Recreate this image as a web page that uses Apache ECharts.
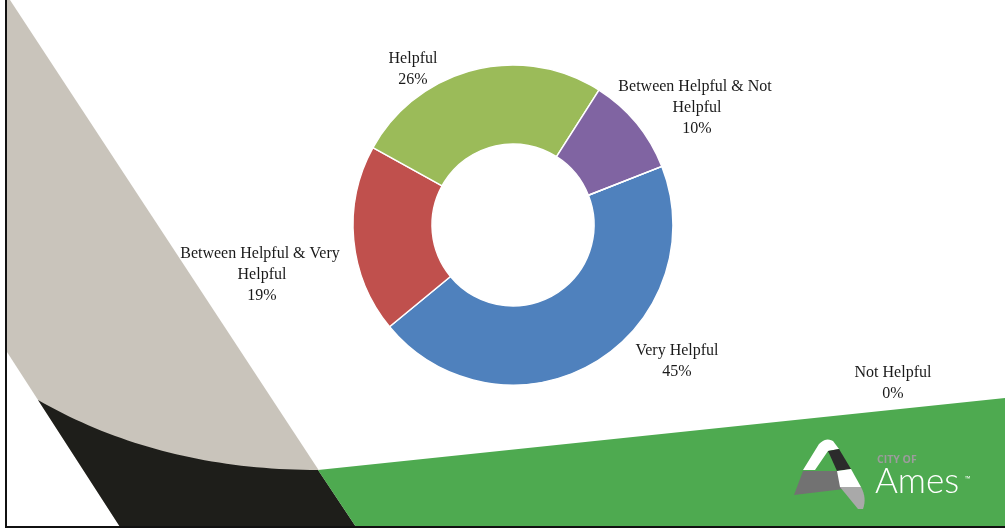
<!DOCTYPE html>
<html>
<head>
<meta charset="utf-8">
<title>Helpfulness rating</title>
<script src="https://cdn.jsdelivr.net/npm/echarts@6/dist/echarts.min.js"></script>
<style>
  html, body { margin: 0; padding: 0; background: #ffffff; }
  #chart { width: 1005px; height: 529px; }
</style>
</head>
<body>
<div id="chart"></div>
<script>
// Survey answers and their shares (percent)
const categories = [
  'Very Helpful',
  'Between Helpful & Very Helpful',
  'Helpful',
  'Between Helpful & Not Helpful',
  'Not Helpful'
];
const shares = [45, 19, 26, 10, 0];
const sliceColors = ['#4F81BD', '#C0504D', '#9BBB59', '#8064A2', '#F79646'];

// Where each data label block is centred on the slide
const labelSpots = [
  [677, 361],
  [262, 275],
  [413, 69],
  [697, 108],
  [893, 383]
];

// Sample a quadratic Bezier into polygon points
function quad(p0, c, p1, steps) {
  const pts = [];
  for (let i = 0; i <= steps; i++) {
    const t = i / steps, u = 1 - t;
    pts.push([u * u * p0[0] + 2 * u * t * c[0] + t * t * p1[0],
              u * u * p0[1] + 2 * u * t * c[1] + t * t * p1[1]]);
  }
  return pts;
}

const chart = echarts.init(document.getElementById('chart'), null, { renderer: 'canvas' });

const swoosh = quad([38, 400], [160, 470], [318, 470], 40).concat([[356, 527], [120, 527]]);
const logoLeftLeg = [[803, 470], [819, 444]].concat(quad([819, 444], [826, 437], [833, 441], 8))
  .concat([[839, 449], [828, 451], [815, 470]]);
const logoFoot = [[840, 487], [861, 487]].concat(quad([861, 487], [867, 498], [863, 509], 8)).concat([[858, 509]]);

// Slide decoration: tilted beige band, black swoosh, green footer and logo
const decor = [
  { type: 'polygon', z: 0, shape: { points: [[7, 0], [10, 0], [356, 527], [120, 527], [7, 352]] },
    style: { fill: '#C9C4BB' } },
  { type: 'polygon', z: 0, shape: { points: swoosh }, style: { fill: '#1E1E1A' } },
  { type: 'polygon', z: 0, shape: { points: [[318, 470], [1005, 398], [1005, 527], [356, 527]] },
    style: { fill: '#4EAA50' } },
  // frame lines
  { type: 'rect', z: 1, shape: { x: 5, y: 0, width: 2, height: 528 }, style: { fill: '#111' } },
  { type: 'rect', z: 1, shape: { x: 5, y: 526, width: 1000, height: 2 }, style: { fill: '#111' } },
  // City of Ames mark
  { type: 'polygon', z: 1, shape: { points: logoLeftLeg }, style: { fill: '#FFFFFF' } },
  { type: 'polygon', z: 1, shape: { points: [[828, 451], [839, 449], [851, 469], [837, 471]] },
    style: { fill: '#2B2B2B' } },
  { type: 'polygon', z: 1, shape: { points: [[803, 471], [837, 471], [844, 489], [794, 495]] },
    style: { fill: '#727272' } },
  { type: 'polygon', z: 1, shape: { points: [[837, 471], [851, 469], [861, 487], [840, 487]] },
    style: { fill: '#FFFFFF' } },
  { type: 'polygon', z: 1, shape: { points: logoFoot }, style: { fill: '#A9A9A9' } },
  { type: 'text', z: 1, x: 877, y: 455,
    style: { text: 'CITY OF', fill: '#9C9C9C', font: 'bold 10.5px "Open Sans", sans-serif' } },
  { type: 'text', z: 1, x: 875, y: 464,
    style: { text: 'Ames', fill: '#FFFFFF', font: '300 35px Lato, "Open Sans", sans-serif' } },
  { type: 'text', z: 1, x: 965, y: 475,
    style: { text: '™', fill: '#FFFFFF', font: '7px "Open Sans", sans-serif' } }
];

chart.setOption({
  backgroundColor: '#FFFFFF',
  animation: false,
  graphic: { elements: decor },
  series: [{
    type: 'pie',
    z: 5,
    center: [513, 225],
    radius: [81, 160],
    startAngle: 21.5,
    clockwise: true,
    avoidLabelOverlap: false,
    itemStyle: { borderColor: '#FFFFFF', borderWidth: 1.5 },
    label: {
      show: true,
      position: 'outside',
      formatter: p => p.name + '\n' + p.value + '%',
      width: 178,
      overflow: 'break',
      align: 'center',
      fontFamily: '"Liberation Serif", "DejaVu Serif", serif',
      fontSize: 16,
      lineHeight: 21,
      color: '#1A1A1A'
    },
    labelLine: { show: false },
    labelLayout: p => {
      const s = labelSpots[p.dataIndex];
      return { x: s[0], y: s[1], align: 'center', verticalAlign: 'middle' };
    },
    emphasis: { disabled: true },
    data: categories.map((name, i) => ({
      name: name,
      value: shares[i],
      itemStyle: { color: sliceColors[i] }
    }))
  }]
});
</script>
</body>
</html>
